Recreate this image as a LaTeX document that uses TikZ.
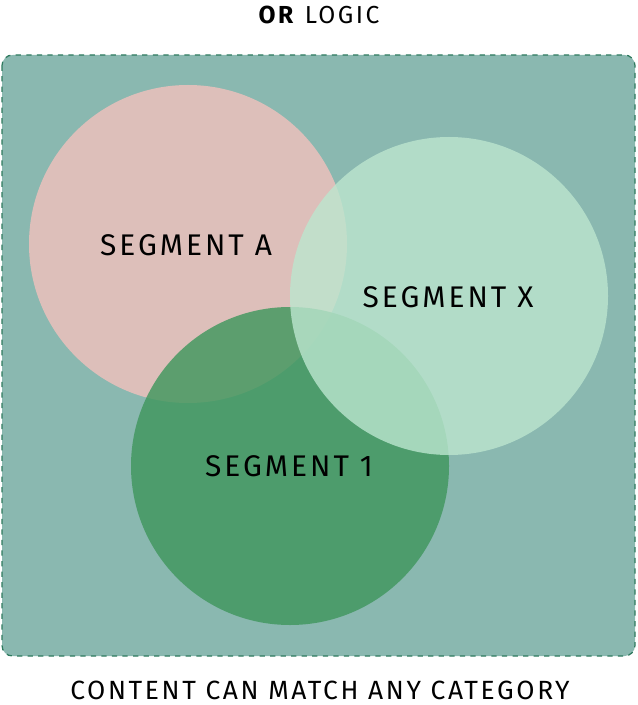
\documentclass[tikz,border=0pt]{standalone}
\usepackage{fontspec}
\setmainfont[LetterSpace=10]{Fira Sans}
\definecolor{bgteal}{HTML}{8AB8B0}
\definecolor{edgegreen}{HTML}{2E7A5E}
\definecolor{segpink}{HTML}{DDBFBA}
\definecolor{seglight}{HTML}{BCE6CF}
\definecolor{segdark}{HTML}{40975E}
\begin{document}
\begin{tikzpicture}[x=0.02cm, y=-0.02cm,
    segment/.style={circle, minimum size=318*0.02cm, inner sep=0pt},
    seglabel/.style={font=\fontsize{17}{19}\selectfont, text=black}]
    \useasboundingbox (0,0) rectangle (637,705);
    \node[font=\fontsize{14}{16}\selectfont] (title) at (319,15) {\textbf{OR} LOGIC};
    \draw[edgegreen, dashed, fill=bgteal, rounded corners=6pt, line width=0.7pt] (2,55) rectangle (635,656);
    % the three segments
    \node[segment, fill=segpink] (A) at (188,244) {};
    \node[segment, fill=segdark, fill opacity=0.82] (one) at (290,466) {};
    \node[segment, fill=seglight, fill opacity=0.8] (X) at (449,296) {};
    \node[seglabel] at (186,245) {SEGMENT A};
    \node[seglabel] at (448,297) {SEGMENT X};
    \node[seglabel] at (289,466) {SEGMENT 1};
    \node[font=\fontsize{15}{17}\selectfont] (caption) at (320,690) {CONTENT CAN MATCH ANY CATEGORY};
\end{tikzpicture}
\end{document}
